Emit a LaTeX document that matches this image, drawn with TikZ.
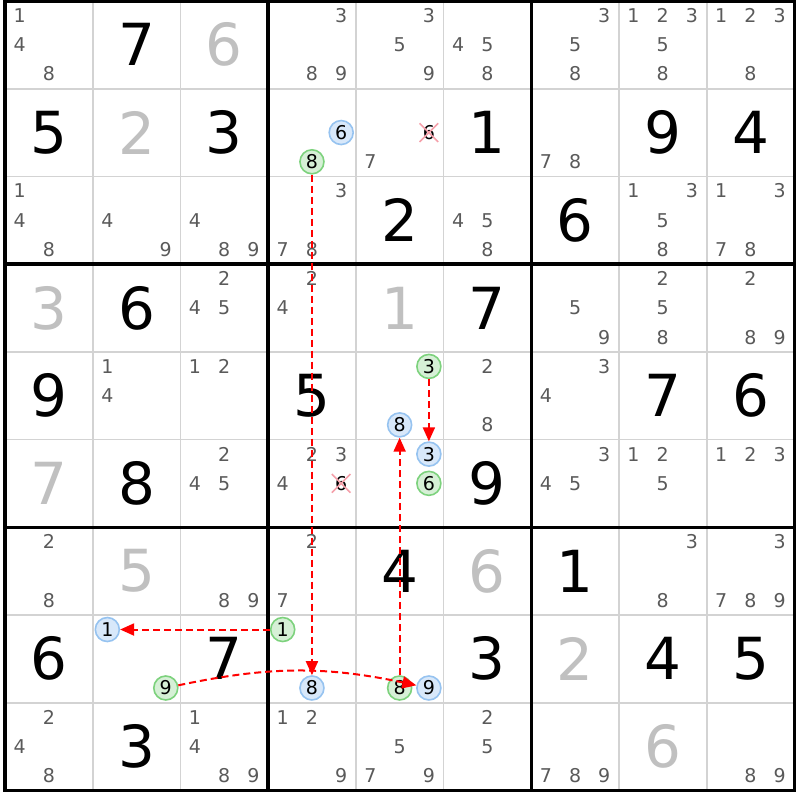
\documentclass[tikz,border=0pt]{standalone}
\usepackage{fontspec}
\setmainfont{DejaVu Sans}
\usetikzlibrary{arrows.meta,shapes.misc}
\definecolor{gridgrey}{RGB}{211,211,211}
\definecolor{candgrey}{RGB}{90,90,90}
\definecolor{givengrey}{RGB}{192,192,192}
\definecolor{ongreen}{RGB}{214,240,214}
\definecolor{ongreenline}{RGB}{125,210,125}
\definecolor{offblue}{RGB}{216,232,250}
\definecolor{offblueline}{RGB}{150,195,240}
\definecolor{strikepink}{RGB}{245,160,170}
\definecolor{linkred}{RGB}{255,0,0}

\begin{document}
\begin{tikzpicture}[x=87.7pt, y=-87.7pt,
    bigdigit/.style={font=\fontsize{58}{58}\selectfont, inner sep=0pt},
    greydigit/.style={bigdigit, text=givengrey},
    cand/.style={font=\fontsize{19}{19}\selectfont, text=candgrey, inner sep=0pt},
    candon/.style={cand, text=black, circle, draw=ongreenline, fill=ongreen, line width=1.6pt, minimum size=24pt},
    candoff/.style={cand, text=black, circle, draw=offblueline, fill=offblue, line width=1.6pt, minimum size=24pt},
    candx/.style={cand, text=black, cross out, draw=strikepink, line width=1.6pt, minimum size=17pt},
    chainlink/.style={draw=linkred, line width=2pt, dash pattern=on 7pt off 4pt,
        -{Triangle[length=14pt,width=12pt,fill=linkred]}}]
    \fill[white] (-0.057,-0.0114) rectangle (9.065,9.1106);
    \useasboundingbox (-0.057,-0.0114) rectangle (9.065,9.1106);

    % grid
    \foreach \i in {1,2,4,5,7,8} {
        \draw[gridgrey, line width=1.8pt] (\i,0) -- (\i,9);
        \draw[gridgrey, line width=1.8pt] (0,\i) -- (9,\i);
    }
    \foreach \i in {3,6} {
        \draw[line width=3.3pt] (\i,0) -- (\i,9);
        \draw[line width=3.3pt] (0,\i) -- (9,\i);
    }
    \draw[line width=3.3pt] (0,0) rectangle (9,9);

    % solved and given values
    \foreach \r/\c/\v in {1/2/7, 2/1/5, 2/3/3, 2/6/1, 2/8/9, 2/9/4, 3/5/2, 3/7/6, 4/2/6, 4/6/7,
        5/1/9, 5/4/5, 5/8/7, 5/9/6, 6/2/8, 6/6/9, 7/5/4, 7/7/1, 8/1/6, 8/3/7, 8/6/3, 8/8/4, 8/9/5, 9/2/3}
        \node[bigdigit] (v\r\c) at (\c-0.5,\r-0.5) {\v};
    \foreach \r/\c/\v in {1/3/6, 2/2/2, 4/1/3, 4/5/1, 6/1/7, 7/2/5, 7/6/6, 8/7/2, 9/8/6}
        \node[greydigit] (v\r\c) at (\c-0.5,\r-0.5) {\v};

    % candidates
    \foreach \r/\c/\ds in {1/1/{1,4,8}, 1/4/{3,8,9}, 1/5/{3,5,9}, 1/6/{4,5,8}, 1/7/{3,5,8}, 1/8/{1,2,3,5,8}, 1/9/{1,2,3,8},
        2/5/{7}, 2/7/{7,8},
        3/1/{1,4,8}, 3/2/{4,9}, 3/3/{4,8,9}, 3/4/{3,7,8}, 3/6/{4,5,8}, 3/8/{1,3,5,8}, 3/9/{1,3,7,8},
        4/3/{2,4,5}, 4/4/{2,4}, 4/7/{5,9}, 4/8/{2,5,8}, 4/9/{2,8,9},
        5/2/{1,4}, 5/3/{1,2}, 5/6/{2,8}, 5/7/{3,4},
        6/3/{2,4,5}, 6/4/{2,3,4}, 6/7/{3,4,5}, 6/8/{1,2,5}, 6/9/{1,2,3},
        7/1/{2,8}, 7/3/{8,9}, 7/4/{2,7}, 7/8/{3,8}, 7/9/{3,7,8,9},
        9/1/{2,4,8}, 9/3/{1,4,8,9}, 9/4/{1,2,9}, 9/5/{5,7,9}, 9/6/{2,5}, 9/7/{7,8,9}, 9/9/{8,9}} {
        \foreach \d in \ds {
            \pgfmathsetmacro\cx{\c-1+(2*mod(\d-1,3)+1)/6}
            \pgfmathsetmacro\cy{\r-1+(2*int((\d-1)/3)+1)/6}
            \node[cand] (n\r\c\d) at (\cx,\cy) {\d};
        }
    }
    \foreach \r/\c/\d/\look in {2/4/6/candoff, 2/4/8/candon, 5/5/3/candon, 5/5/8/candoff,
        6/5/3/candoff, 6/5/6/candon, 8/2/1/candoff, 8/2/9/candon, 8/4/1/candon, 8/4/8/candoff,
        8/5/8/candon, 8/5/9/candoff, 2/5/6/candx, 6/4/6/candx} {
        \pgfmathsetmacro\cx{\c-1+(2*mod(\d-1,3)+1)/6}
        \pgfmathsetmacro\cy{\r-1+(2*int((\d-1)/3)+1)/6}
        \node[\look] (n\r\c\d) at (\cx,\cy) {\d};
    }

    \draw[chainlink] (n248) -- (n848);
    \draw[chainlink] (n553) -- (n653);
    \draw[chainlink] (n858) -- (n558);
    \draw[chainlink] (n841) -- (n821);
    \draw[chainlink] (n829) to[bend left=12] (n859);
\end{tikzpicture}
\end{document}
